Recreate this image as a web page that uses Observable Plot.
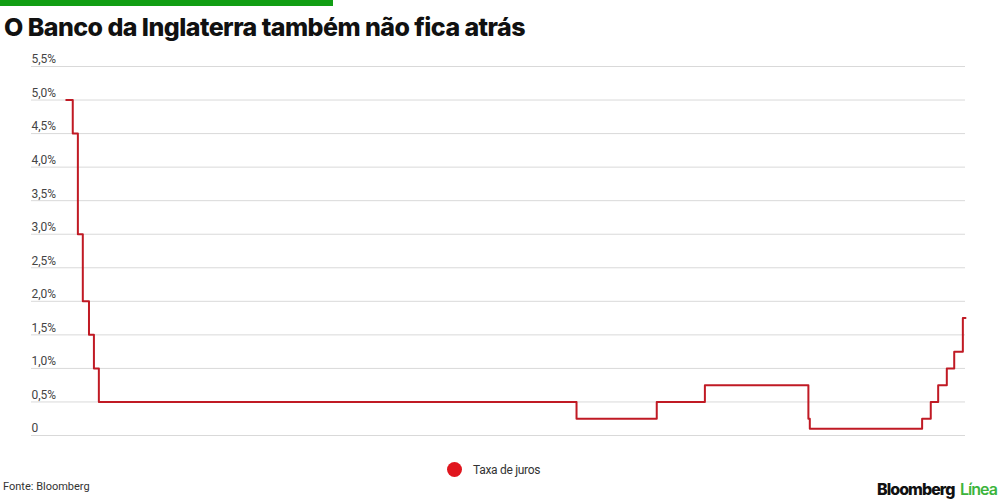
<!DOCTYPE html>
<html>
<head>
<meta charset="utf-8">
<script src="https://cdn.jsdelivr.net/npm/d3@7"></script>
<script src="https://cdn.jsdelivr.net/npm/@observablehq/plot@0.6"></script>
<style>
  html, body { margin: 0; padding: 0; background: #fff; width: 1000px; height: 500px; overflow: hidden; position: relative; font-family: Roboto, "Liberation Sans", sans-serif; }
  #bar { position: absolute; left: 0; top: 0; width: 333px; height: 6px; background: #119e14; }
  #title { position: absolute; left: 4px; top: 12px; font-family: Inter, sans-serif; font-weight: 800; font-size: 25px; letter-spacing: -1.2px; color: #111; white-space: nowrap; line-height: 30px; }
  #chart { position: absolute; left: 0; top: 50px; }
  #legend { position: absolute; left: 447px; top: 462px; font-size: 12px; color: #333; display: flex; align-items: center; letter-spacing: -0.3px; }
  #legend .dot { width: 15px; height: 15px; border-radius: 50%; background: #e0161e; margin-right: 11px; }
  #source { position: absolute; left: 3px; top: 480px; font-size: 11px; color: #333; }
  #logo { position: absolute; left: 877px; top: 478px; font-family: Inter, sans-serif; font-size: 16px; font-weight: 800; letter-spacing: -0.6px; color: #111; white-space: nowrap; line-height: 22px; }
  #logo span { color: #3cb43c; font-weight: 600; margin-left: 3px; }
</style>
</head>
<body>
<div id="bar"></div>
<div id="title">O Banco da Inglaterra também não fica atrás</div>
<div id="chart"></div>
<div id="legend"><div class="dot"></div>Taxa de juros</div>
<div id="source">Fonte: Bloomberg</div>
<div id="logo">Bloomberg <span>Línea</span></div>
<script>
const dates = ["2008-09-01","2008-10-08","2008-11-06","2008-12-04","2009-01-08","2009-02-05","2009-03-05","2016-08-04","2017-11-02","2018-08-02","2020-03-11","2020-03-19","2021-12-16","2022-02-03","2022-03-17","2022-05-05","2022-06-16","2022-08-04","2022-08-19"];
const rates = [5, 4.5, 3, 2, 1.5, 1, 0.5, 0.25, 0.5, 0.75, 0.25, 0.1, 0.25, 0.5, 0.75, 1, 1.25, 1.75, 1.75];
const xDomain = ["2008-02-17", "2022-08-19"];
const yTicks = [0, 0.5, 1, 1.5, 2, 2.5, 3, 3.5, 4, 4.5, 5, 5.5];
const yLabels = ["0", "0,5%", "1,0%", "1,5%", "2,0%", "2,5%", "3,0%", "3,5%", "4,0%", "4,5%", "5,0%", "5,5%"];

const data = dates.map((d, i) => ({date: new Date(d), rate: rates[i]}));
const ticks = yTicks.map((v, i) => ({v, label: yLabels[i]}));

const chart = Plot.plot({
  width: 1000,
  height: 400,
  marginLeft: 31,
  marginRight: 35,
  marginTop: 16,
  marginBottom: 15,
  style: {fontFamily: "Roboto, sans-serif", background: "transparent"},
  x: {type: "utc", domain: xDomain.map(d => new Date(d)), axis: null},
  y: {domain: [0, 5.5], axis: null},
  marks: [
    Plot.ruleY(ticks, {y: "v", stroke: "#d9d9d9", strokeWidth: 1}),
    Plot.text(ticks, {y: "v", text: "label", frameAnchor: "left", textAnchor: "start", dy: -7, fill: "#444", fontSize: 12}),
    Plot.line(data, {x: "date", y: "rate", curve: "step-after", stroke: "#c01a24", strokeWidth: 2})
  ]
});
document.getElementById("chart").appendChild(chart);

// fit text widths to the reference
function fit(el, target) {
  const n = el.textContent.length;
  const w = el.getBoundingClientRect().width;
  const ls = parseFloat(getComputedStyle(el).letterSpacing) || 0;
  el.style.letterSpacing = (ls + (target - w) / n) + "px";
}
fit(document.getElementById("title"), 521);
fit(document.getElementById("logo"), 120);
</script>
</body>
</html>
